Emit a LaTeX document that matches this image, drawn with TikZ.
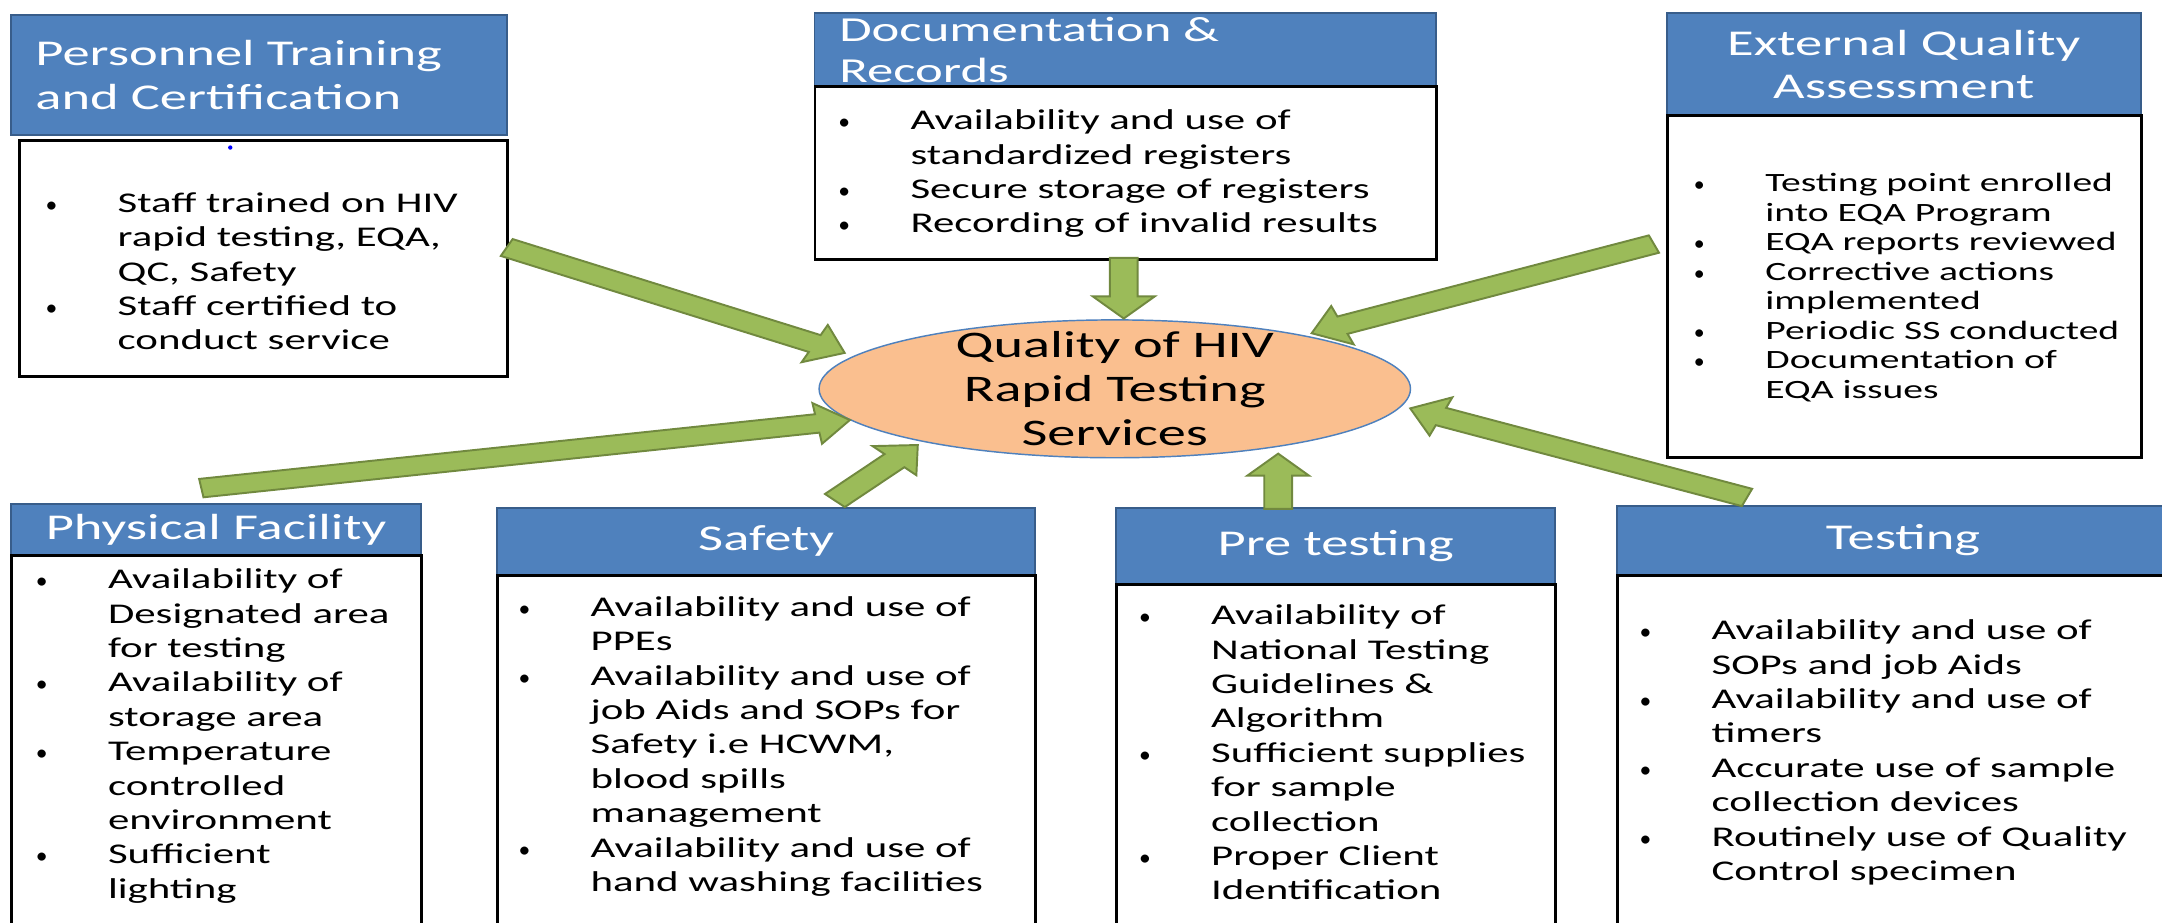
\documentclass[tikz,border=0pt]{standalone}
\usepackage{fontspec}
\setmainfont{Carlito}[FakeStretch=1.5]
\usetikzlibrary{calc,shapes.geometric}
\definecolor{hdblue}{HTML}{4F81BD}
\definecolor{hdline}{HTML}{385D8A}
\definecolor{argreen}{HTML}{9BBB59}
\definecolor{arline}{HTML}{71893F}
\definecolor{peach}{HTML}{FABF8F}
\tikzset{
  hd/.style={anchor=north west,rectangle,fill=hdblue,draw=hdline,line width=0.8pt,text=white,
    font=\fontsize{15}{18}\selectfont,inner xsep=0.36cm,inner ysep=0pt},
  bd/.style={anchor=north west,rectangle,draw=black,line width=1.2pt,fill=white,inner sep=0pt},
  lst/.style={anchor=base west,inner sep=0pt,font=\fontsize{11.8}{14.2}\selectfont},
  hub/.style={ellipse,fill=peach,draw=hdblue,line width=0.6pt,inner sep=0pt,
    minimum width=8.58cm,minimum height=2cm},
  arw/.style={fill=argreen,draw=arline,line width=0.8pt,line join=miter}
}
\newcommand\bullist[1]{\begin{tabular}[t]{@{}p{1.16cm}@{}l@{}}#1\end{tabular}}
\newcommand\bt{\makebox[0.4cm]{\scalebox{0.55}[0.8]{\textbullet}}}
% half shaft, half head width, head length
\def\shw{3.84pt}\def\hdw{8.5pt}\def\hdl{9.1pt}
\newcommand\fatarrow[2]{%
  \path let \p1=(#1), \p2=(#2) in \pgfextra{%
    \pgfmathsetmacro\arang{atan2(\y2-\y1,(\x2-\x1)/1.5)}%
    \pgfmathsetmacro\arlen{veclen((\x2-\x1)/1.5,\y2-\y1)}%
    \xdef\arang{\arang}\xdef\arlen{\arlen}};
  \draw[arw,shift={(#1)},xscale=1.5,rotate=\arang]
    (0pt,-\shw)--({\arlen pt-\hdl},-\shw)--({\arlen pt-\hdl},-\hdw)--(\arlen pt,0pt)
    --({\arlen pt-\hdl},\hdw)--({\arlen pt-\hdl},\shw)--(0pt,\shw)--cycle;}
\begin{document}
\begin{tikzpicture}[x=0.02cm,y=-0.02cm]
\useasboundingbox (0,0) rectangle (1568,669);
\fill[white] (0,0) rectangle (1568,669);
\clip (0,0) rectangle (1568,669);
%personnel training
\node[hd,minimum width=7.2cm,minimum height=1.74cm,text width=6.48cm,align=left] (pth) at (7,10) {Personnel Training\\and Certification};
\node[bd,minimum width=7.08cm,minimum height=3.42cm] (ptb) at (13,101) {};
\fill[blue] (167,107) circle (0.9pt);
\node[lst] (ptl) at (27,154) {\bullist{\bt & Staff trained on HIV\\ & rapid testing, EQA,\\ & QC, Safety\\
  \bt & Staff certified to\\ & conduct service}};
%documentation
\node[hd,minimum width=9.02cm,minimum height=1.06cm,text width=8.3cm,align=left,font=\fontsize{14.5}{17}\selectfont] (doch) at (590,9) {Documentation \&\\Records};
\node[bd,minimum width=9.02cm,minimum height=2.5cm] (docb) at (590,62) {};
\node[lst] (docl) at (602,94) {\bullist{\bt & Availability and use of\\ & standardized registers\\
  \bt & Secure storage of registers\\ \bt & Recording of invalid results}};
%external quality
\node[hd,minimum width=6.88cm,minimum height=1.48cm,align=center] (eqah) at (1208,9) {External Quality\\Assessment};
\node[bd,minimum width=6.88cm,minimum height=4.96cm] (eqab) at (1208,83) {};
\node[lst,font=\fontsize{10.9}{12.2}\selectfont] (eqal) at (1222,139) {\bullist{\bt & Testing point enrolled\\ & into EQA Program\\
  \bt & EQA reports reviewed\\ \bt & Corrective actions\\ & implemented\\
  \bt & Periodic SS conducted\\ \bt & Documentation of\\ & EQA issues}};
%physical facility
\node[hd,minimum width=5.96cm,minimum height=0.74cm] (phyh) at (7,365) {Physical Facility};
\node[bd,minimum width=5.96cm,minimum height=5.96cm] (phyb) at (7,402) {};
\node[lst] (phyl) at (20,427) {\bullist{\bt & Availability of\\ & Designated area\\ & for testing\\
  \bt & Availability of\\ & storage area\\ \bt & Temperature\\ & controlled\\ & environment\\
  \bt & Sufficient\\ & lighting}};
%safety
\node[hd,minimum width=7.8cm,minimum height=0.96cm] (safh) at (360,368) {Safety};
\node[bd,minimum width=7.8cm,minimum height=5.68cm] (safb) at (360,416) {};
\node[lst] (safl) at (370,447) {\bullist{\bt & Availability and use of\\ & PPEs\\
  \bt & Availability and use of\\ & job Aids and SOPs for\\ & Safety i.e HCWM,\\ & blood spills\\ & management\\
  \bt & Availability and use of\\ & hand washing facilities}};
%pre testing
\node[hd,minimum width=6.36cm,minimum height=1.1cm] (preh) at (809,368) {Pre testing};
\node[bd,minimum width=6.36cm,minimum height=5.54cm] (preb) at (809,423) {};
\node[lst] (prel) at (820,453) {\bullist{\bt & Availability of\\ & National Testing\\ & Guidelines \&\\ & Algorithm\\
  \bt & Sufficient supplies\\ & for sample\\ & collection\\
  \bt & Proper Client\\ & Identification}};
%testing
\node[hd,minimum width=8.3cm,minimum height=1cm] (tsth) at (1172,366) {Testing};
\node[bd,minimum width=8.54cm,minimum height=5.68cm] (tstb) at (1172,416) {};
\node[lst] (tstl) at (1183,464) {\bullist{\bt & Availability and use of\\ & SOPs and job Aids\\
  \bt & Availability and use of\\ & timers\\ \bt & Accurate use of sample\\ & collection devices\\
  \bt & Routinely use of Quality\\ & Control specimen}};
%centre
\node[hub] (q) at (808.5,282) {};
\node[font=\fontsize{15.5}{18.2}\selectfont,align=center] (qt) at (q) {Quality of HIV\\Rapid Testing\\Services};
%arrows
\coordinate (ptout) at (367.5,179.5); \coordinate (ptin) at (612.8,256);
\coordinate (docout) at (815,187); \coordinate (docin) at (815,231);
\coordinate (eqaout) at (1199.5,177); \coordinate (eqain) at (951.2,241.7);
\coordinate (phyout) at (146,354); \coordinate (phyin) at (616.4,304.6);
\coordinate (safout) at (605.5,363); \coordinate (safin) at (665.7,322.7);
\coordinate (preout) at (927,369); \coordinate (prein) at (927,329);
\coordinate (tstout) at (1267,360.8); \coordinate (tstin) at (1022.5,296.1);
\foreach \a in {pt,doc,eqa,phy,saf,pre,tst}{\fatarrow{\a out}{\a in}}
\end{tikzpicture}
\end{document}
